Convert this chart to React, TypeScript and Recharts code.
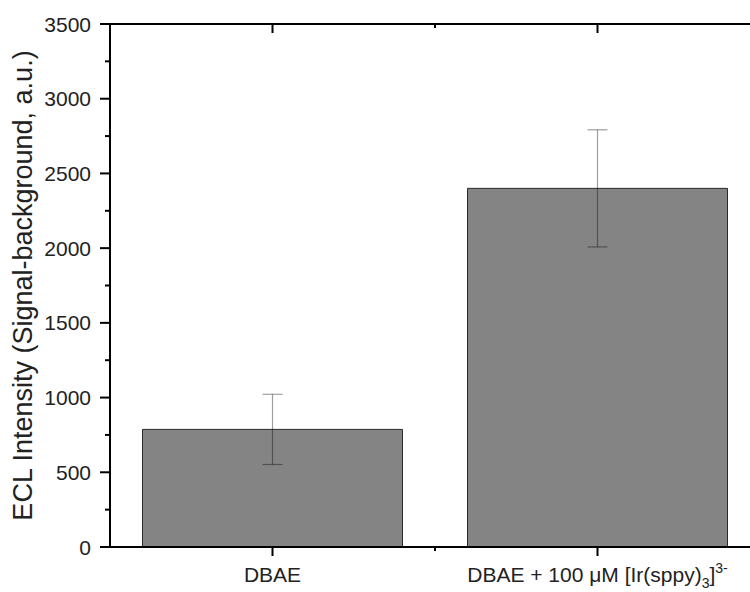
import React from "react";
import {
  BarChart,
  Bar,
  XAxis,
  YAxis,
  ErrorBar,
  Label,
} from "recharts";

const categories = ["DBAE", "DBAE + 100 μM [Ir(sppy)3]3-"];
const intensity = [787, 2400];
const errors = [235, 392];
const yTicks = [0, 250, 500, 750, 1000, 1250, 1500, 1750, 2000, 2250, 2500, 2750, 3000, 3250, 3500];

const data = categories.map((name, i) => ({
  name,
  value: intensity[i],
  err: errors[i],
}));

const FONT = "'Liberation Sans', Arial, sans-serif";
const AXIS = "#000";
const AW = 2;

// left axis: long outward ticks with labels every 500, short ones in between
const LeftTick = ({ x, y, payload }: any) => {
  const major = payload.value % 500 === 0;
  return (
    <g>
      <line x1={x - (major ? 10 : 5)} y1={y} x2={x} y2={y} stroke={AXIS} strokeWidth={AW} />
      {major && (
        <text x={x - 19} y={y} dy="0.36em" textAnchor="end" fontSize={21} fontFamily={FONT} fill="#222">
          {payload.value}
        </text>
      )}
    </g>
  );
};

// right axis: ticks point inward, no labels (axis itself sits just past the cropped edge)
const RightTick = ({ x, y, payload }: any) => {
  const major = payload.value % 500 === 0;
  return <line x1={x} y1={y} x2={x - (major ? 12 : 5)} y2={y} stroke={AXIS} strokeWidth={AW} />;
};

const CategoryLabel = ({ text, x, y }: { text: string; x: number; y: number }) => {
  if (text.indexOf("Ir(sppy)") >= 0) {
    return (
      <text x={x} y={y} textAnchor="middle" fontSize={21} fontFamily={FONT} fill="#222">
        <tspan>DBAE + 100 μM [Ir(sppy)</tspan>
        <tspan fontSize={14} dy={6}>3</tspan>
        <tspan dy={-6}>]</tspan>
        <tspan fontSize={14} dy={-9}>3-</tspan>
      </text>
    );
  }
  return (
    <text x={x} y={y} textAnchor="middle" fontSize={21} fontFamily={FONT} fill="#222">
      {text}
    </text>
  );
};

const BottomTick = ({ x, y, payload }: any) => {
  const half = payload.offset || 162.5;
  return (
    <g>
      <line x1={x} y1={y} x2={x} y2={y + 9} stroke={AXIS} strokeWidth={AW} />
      <line x1={x + half} y1={y} x2={x + half} y2={y + 4} stroke={AXIS} strokeWidth={AW} />
      <CategoryLabel text={payload.value} x={x} y={y + 35} />
    </g>
  );
};

const TopTick = ({ x, y, payload }: any) => {
  const half = payload.offset || 162.5;
  return (
    <g>
      <line x1={x} y1={y} x2={x} y2={y + 9} stroke={AXIS} strokeWidth={AW} />
      <line x1={x + half} y1={y} x2={x + half} y2={y + 4} stroke={AXIS} strokeWidth={AW} />
    </g>
  );
};

const YTitle = ({ viewBox }: any) => {
  const cx = viewBox.x + 32;
  const cy = viewBox.y + viewBox.height / 2;
  return (
    <text
      x={cx}
      y={cy}
      transform={`rotate(-90, ${cx}, ${cy})`}
      textAnchor="middle"
      fontSize={27}
      fontFamily={FONT}
      fill="#222"
    >
      ECL Intensity (Signal-background, a.u.)
    </text>
  );
};

export default function App() {
  return (
    <div style={{ position: "fixed", top: 0, left: 0, width: 750, height: 592, overflow: "hidden", background: "#fff" }}>
      <BarChart
        width={780}
        height={592}
        data={data}
        margin={{ top: 23, right: 0, bottom: 0, left: 0 }}
        barCategoryGap="10%"
      >
        <XAxis
          dataKey="name"
          height={45}
          tickSize={0}
          tickMargin={0}
          tick={<BottomTick />}
          axisLine={{ stroke: AXIS, strokeWidth: AW }}
          interval={0}
        />
        <XAxis
          xAxisId="top"
          orientation="top"
          dataKey="name"
          height={1}
          tickSize={0}
          tickMargin={0}
          tick={<TopTick />}
          axisLine={{ stroke: AXIS, strokeWidth: AW }}
          interval={0}
        />
        <YAxis
          width={110}
          domain={[0, 3500]}
          ticks={yTicks}
          interval={0}
          tickSize={0}
          tickMargin={0}
          tick={<LeftTick />}
          axisLine={{ stroke: AXIS, strokeWidth: AW }}
        >
          <Label content={<YTitle />} />
        </YAxis>
        <YAxis
          yAxisId="right"
          orientation="right"
          width={20}
          domain={[0, 3500]}
          ticks={yTicks}
          interval={0}
          tickSize={0}
          tickMargin={0}
          tick={<RightTick />}
          axisLine={{ stroke: AXIS, strokeWidth: AW }}
        />
        <Bar dataKey="value" fill="#848484" stroke="#2a2a2a" strokeWidth={1} isAnimationActive={false}>
          <ErrorBar dataKey="err" width={10} stroke="#000" strokeOpacity={0.38} strokeWidth={1.2} />
        </Bar>
      </BarChart>
    </div>
  );
}
